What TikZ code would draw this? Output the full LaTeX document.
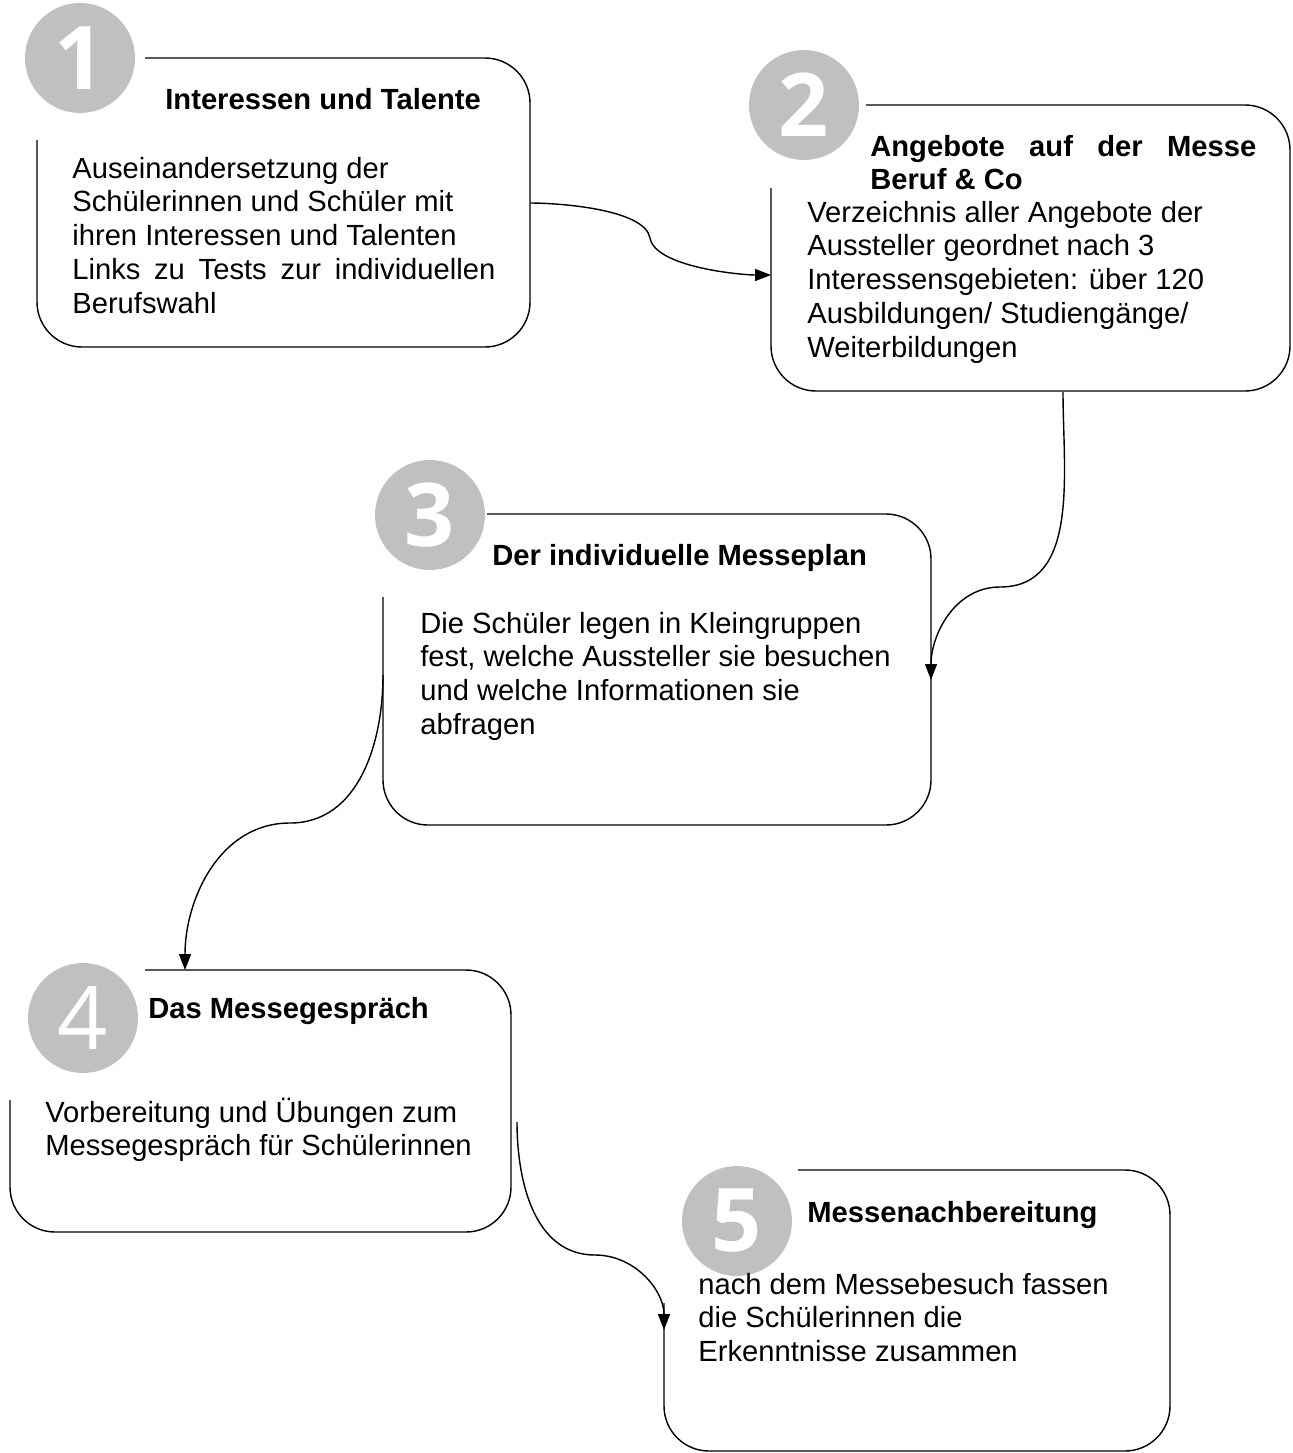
\documentclass[tikz,border=0pt]{standalone}
\usepackage{fontspec}
\setmainfont{Liberation Sans}
\newfontfamily\digitfont{Open Sans}
\usepackage{tkz-euclide}
\usetikzlibrary{arrows.meta}
\definecolor{numgray}{HTML}{C0C0C0}
\tikzset{
  box/.style={line width=0.8pt, rounded corners=0.9cm},
  num/.style={circle, fill=numgray, minimum size=2.2cm, inner sep=0pt, text=white,
    font=\digitfont\bfseries\fontsize{50}{50}\selectfont},
  head/.style={anchor=base west, inner sep=0pt, font=\bfseries\fontsize{16.6}{19.3}\selectfont},
  body/.style={anchor=base west, inner sep=0pt, font=\fontsize{16.6}{19.3}\selectfont},
  link/.style={line width=0.8pt, -{Triangle[length=0.32cm,width=0.24cm]}}
}

\begin{document}
\begin{tikzpicture}
\useasboundingbox (0,0) rectangle (25.86,-29.06);
% the five open boxes
\tkzDefPoints{0.74/-2.8/A1, 10.6/-6.94/A2, 2.9/-1.16/A3,
  15.42/-3.76/B1, 25.8/-7.82/B2, 17.32/-2.1/B3,
  7.66/-11.94/C1, 18.62/-16.5/C2, 9.74/-10.28/C3,
  0.2/-22.0/D1, 10.22/-24.64/D2, 2.9/-19.4/D3,
  13.28/-26.06/E1, 23.4/-29.02/E2, 15.96/-23.4/E3}
\draw[box] (A1) |- (A2) |- (A3);
\draw[box] (B1) |- (B2) |- (B3);
\draw[box] (C1) |- (C2) |- (C3);
\draw[box] (D1) |- (D2) |- (D3);
\draw[box] (E1) |- (E2) |- (E3);
% numbers
\node[num] (num1) at (1.6,-1.16) {1};
\node[num] (num2) at (16.08,-2.1) {2};
\node[num] (num3) at (8.6,-10.3) {3};
\node[num, font=\digitfont\fontsize{50}{50}\selectfont] (num4) at (1.66,-20.36) {4};
\node[num] (num5) at (14.74,-24.42) {5};
% texts
\node[head] (head1) at (3.3,-2.18) {Interessen und Talente};
\node[body] (body1) at (1.44,-3.56) {\parbox[t]{9cm}{Auseinandersetzung der\\
  Schülerinnen und Schüler mit\\
  ihren Interessen und Talenten\\
  \makebox[8.46cm][s]{Links zu Tests zur individuellen}\\
  Berufswahl}};
\node[head] (head2) at (17.4,-3.12) {\parbox[t]{8cm}{\makebox[7.72cm][s]{Angebote auf der Messe}\\
  Beruf \& Co}};
\node[body] (body2) at (16.14,-4.44) {\parbox[t]{9cm}{Verzeichnis aller Angebote der\\
  Aussteller geordnet nach 3\\
  Interessensgebieten: über 120\\
  Ausbildungen/ Studiengänge/\\
  Weiterbildungen}};
\node[head] (head3) at (9.84,-11.3) {Der individuelle Messeplan};
\node[body] (body3) at (8.4,-12.66) {\parbox[t]{10cm}{Die Schüler legen in Kleingruppen\\
  fest, welche Aussteller sie besuchen\\
  und welche Informationen sie\\
  abfragen}};
\node[head] (head4) at (2.96,-20.36) {Das Messegespräch};
\node[body] (body4) at (0.9,-22.44) {\parbox[t]{9cm}{Vorbereitung und Übungen zum\\
  Messegespräch für Schülerinnen}};
\node[head] (head5) at (16.14,-24.44) {Messenachbereitung};
\node[body] (body5) at (13.96,-25.88) {\parbox[t]{9cm}{nach dem Messebesuch fassen\\
  die Schülerinnen die\\
  Erkenntnisse zusammen}};
% connectors
\tkzDefPoints{10.6/-4.06/a1, 13.0/-4.76/a2, 15.42/-5.5/a3,
  21.26/-7.84/b1, 20.0/-11.74/b2, 18.62/-13.6/b3,
  7.66/-13.5/c1, 5.8/-16.46/c2, 3.7/-19.4/c3,
  10.34/-22.44/d1, 11.9/-25.1/d2, 13.28/-26.6/d3}
\draw[link] (a1) to[out=0,in=100,looseness=0.6] (a2) to[out=-80,in=180,looseness=0.6] (a3);
\draw[link] (b1) to[out=-90,in=0] (b2) to[out=180,in=90] (b3);
\draw[link] (c1) to[out=-90,in=0] (c2) to[out=180,in=90] (c3);
\draw[link] (d1) to[out=-90,in=180] (d2) to[out=0,in=90] (d3);
\end{tikzpicture}
\end{document}
